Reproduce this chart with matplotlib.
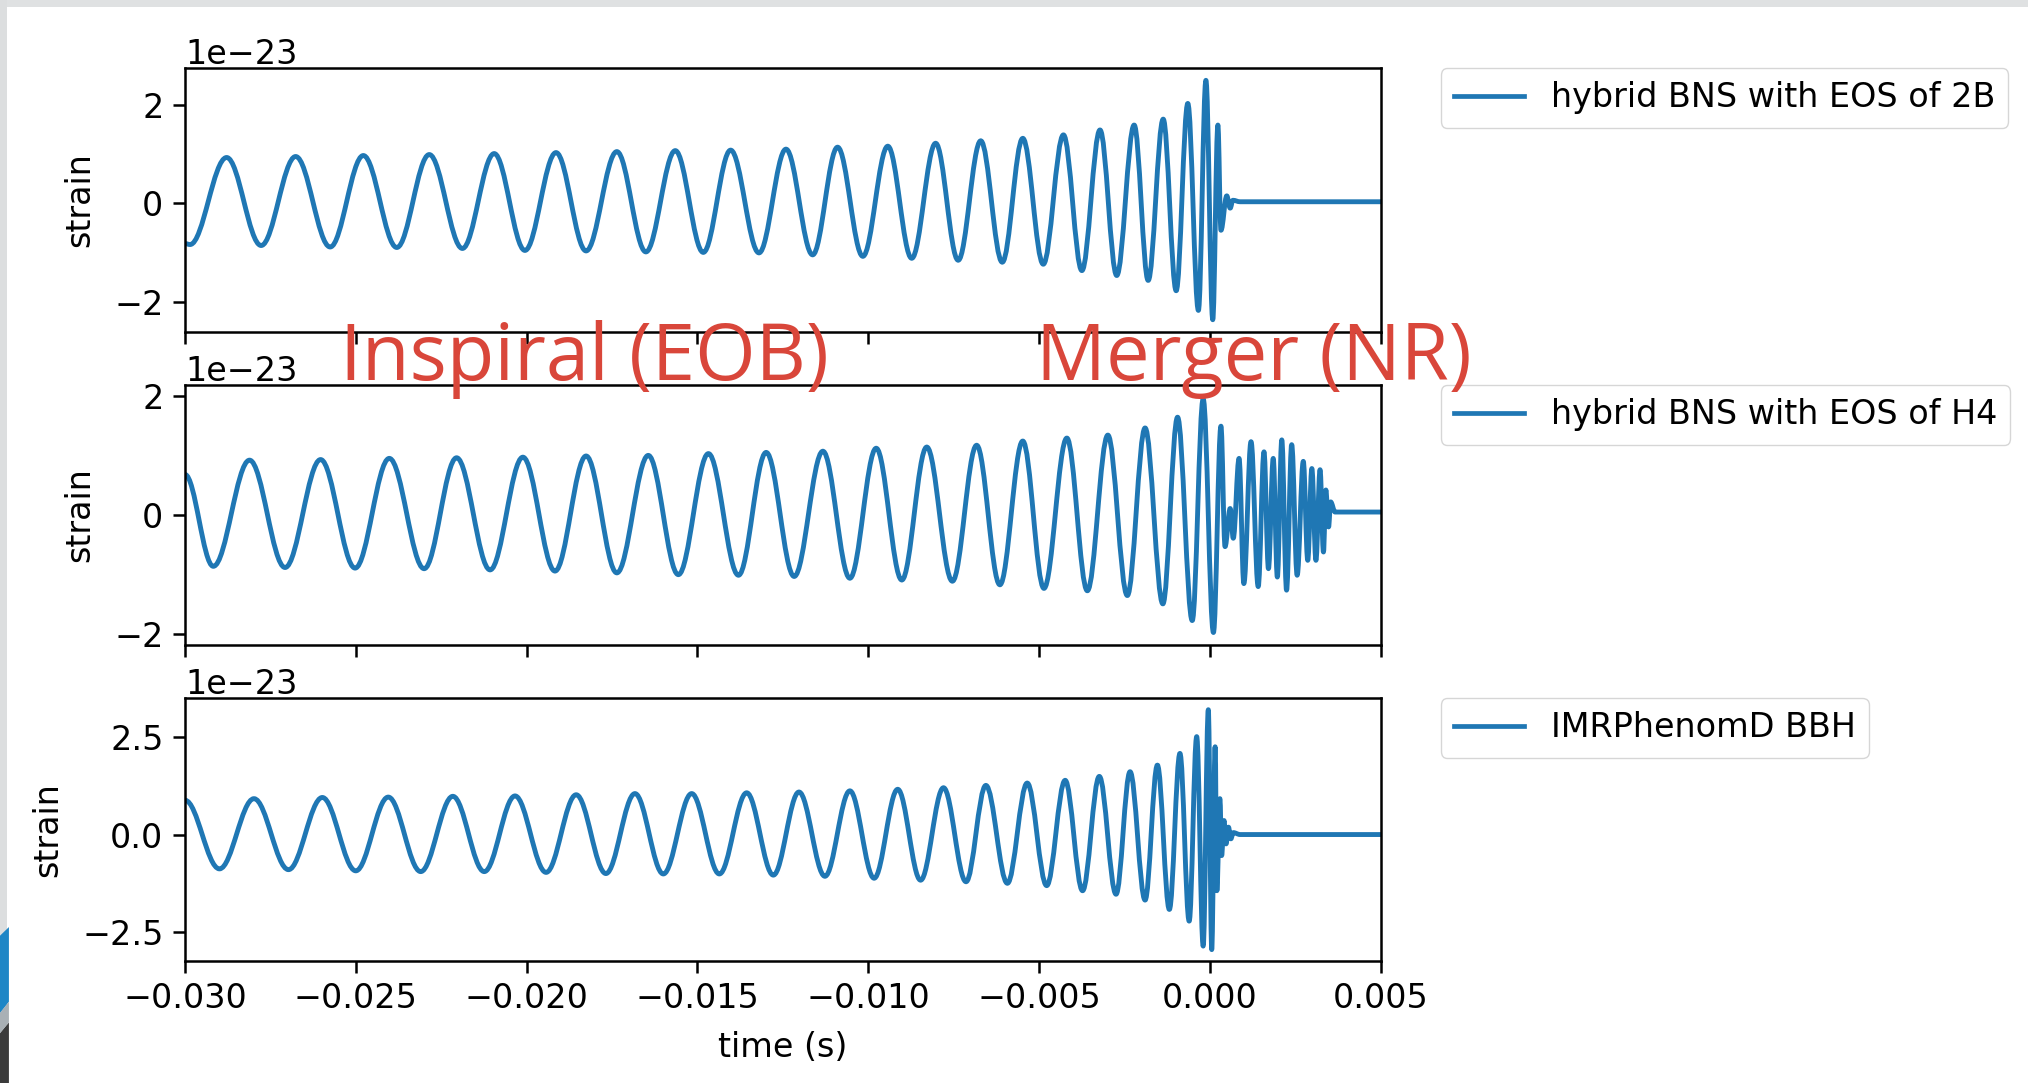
# hybrid BNS / BBH waveform comparison (strain vs time)
import numpy as np
import matplotlib
matplotlib.use("Agg")
import matplotlib.pyplot as plt
from matplotlib.path import Path
from matplotlib.patches import PathPatch, Rectangle, Polygon
from matplotlib.lines import Line2D

# extrema of each waveform: time in ms, strain in units of 1e-23
t_2b = [-30.00, -29.85, -28.78, -27.77, -26.76, -25.75, -24.78, -23.80, -22.85, -21.88,
        -20.95, -20.05, -19.14, -18.26, -17.36, -16.51, -15.65, -14.83, -14.03, -13.20,
        -12.41, -11.63, -10.90, -10.16, -9.43, -8.73, -8.03, -7.37, -6.71, -6.08,
        -5.48, -4.88, -4.29, -3.75, -3.22, -2.73, -2.22, -1.81, -1.37, -0.99,
        -0.65, -0.34, -0.12, 0.08, 0.23, 0.32, 0.49, 0.59, 0.67, 0.88, 5.00]
h_2b = [-0.82, -0.84, 0.93, -0.86, 0.95, -0.89, 0.97, -0.90, 0.99, -0.92,
        1.01, -0.96, 1.03, -0.97, 1.05, -0.99, 1.07, -1.00, 1.08, -1.01,
        1.10, -1.05, 1.14, -1.08, 1.16, -1.12, 1.22, -1.16, 1.27, -1.20,
        1.32, -1.24, 1.39, -1.37, 1.49, -1.47, 1.59, -1.57, 1.71, -1.78,
        2.03, -2.18, 2.50, -2.37, 1.59, -0.55, 0.15, -0.10, 0.06, 0.03, 0.03]

t_h4 = [-30.00, -29.17, -28.11, -27.07, -26.03, -25.02, -24.02, -23.00, -22.05, -21.07,
        -20.11, -19.17, -18.26, -17.36, -16.44, -15.56, -14.68, -13.80, -12.99, -12.17,
        -11.33, -10.54, -9.77, -9.02, -8.29, -7.54, -6.83, -6.15, -5.48, -4.86,
        -4.19, -3.59, -2.99, -2.42, -1.90, -1.38, -0.95, -0.52, -0.20, 0.10,
        0.32, 0.44, 0.59, 0.68, 0.85, 0.99, 1.20, 1.41, 1.58, 1.71,
        1.85, 1.97, 2.10, 2.24, 2.39, 2.55, 2.73, 2.86, 2.98, 3.10,
        3.22, 3.32, 3.39, 3.47, 3.53, 3.66, 5.00]
h_h4 = [0.68, -0.86, 0.92, -0.88, 0.93, -0.89, 0.95, -0.90, 0.96, -0.92,
        0.97, -0.94, 0.99, -0.97, 1.00, -1.00, 1.03, -1.01, 1.05, -1.03,
        1.07, -1.06, 1.12, -1.09, 1.14, -1.11, 1.17, -1.17, 1.24, -1.23,
        1.29, -1.27, 1.34, -1.35, 1.46, -1.49, 1.64, -1.77, 1.95, -1.97,
        1.49, -0.53, 0.11, -0.39, 0.95, -1.15, 1.23, -1.20, 1.06, -0.90,
        0.95, -1.04, 1.26, -1.26, 1.18, -1.01, 0.90, -0.76, 0.78, -0.76,
        0.76, -0.62, 0.42, -0.20, 0.22, 0.05, 0.05]

t_bbh = [-30.00, -28.99, -27.98, -26.97, -25.98, -25.00, -24.05, -23.10, -22.16, -21.24,
         -20.34, -19.43, -18.55, -17.68, -16.83, -16.00, -15.17, -14.36, -13.56, -12.78,
         -12.03, -11.27, -10.54, -9.83, -9.14, -8.47, -7.80, -7.14, -6.56, -5.93,
         -5.35, -4.78, -4.24, -3.73, -3.24, -2.75, -2.34, -1.90, -1.54, -1.19,
         -0.88, -0.61, -0.39, -0.20, -0.05, 0.05, 0.15, 0.20, 0.29, 0.34,
         0.41, 0.47, 0.54, 0.61, 0.68, 0.88, 5.00]
h_bbh = [0.88, -0.88, 0.92, -0.90, 0.95, -0.93, 0.96, -0.95, 0.98, -0.95,
         0.99, -0.97, 1.02, -1.00, 1.05, -1.01, 1.05, -1.01, 1.07, -1.04,
         1.09, -1.07, 1.12, -1.12, 1.16, -1.17, 1.20, -1.21, 1.26, -1.25,
         1.32, -1.31, 1.39, -1.44, 1.49, -1.53, 1.61, -1.68, 1.78, -1.92,
         2.08, -2.22, 2.51, -2.86, 3.20, -2.95, 2.25, -1.44, 0.92, -0.54,
         0.36, -0.24, 0.19, -0.11, 0.05, 0.00, 0.00]

labels = ["hybrid BNS with EOS of 2B", "hybrid BNS with EOS of H4", "IMRPhenomD BBH"]
ylims = [(-2.62, 2.75), (-2.18, 2.18), (-3.24, 3.50)]
yticks = [[-2, 0, 2], [-2, 0, 2], [-2.5, 0, 2.5]]
xticks = [-0.030, -0.025, -0.020, -0.015, -0.010, -0.005, 0.000, 0.005]

blue = "#1f77b4"
red = "#d9463a"
fs = 24


def wave_path(t_ms, h):
    # smooth curve through the extrema (horizontal tangent at each one)
    t = np.asarray(t_ms) * 1e-3
    y = np.asarray(h) * 1e-23
    k = 0.3634
    verts = [(t[0], y[0])]
    codes = [Path.MOVETO]
    for i in range(len(t) - 1):
        dt = t[i + 1] - t[i]
        verts += [(t[i] + k * dt, y[i]), (t[i + 1] - k * dt, y[i + 1]), (t[i + 1], y[i + 1])]
        codes += [Path.CURVE4] * 3
    return Path(verts, codes)


plt.rcParams.update({"font.size": fs, "axes.linewidth": 1.8,
                     "xtick.major.size": 8.5, "ytick.major.size": 8.5,
                     "xtick.major.width": 1.8, "ytick.major.width": 1.8,
                     "xtick.major.pad": 7, "ytick.major.pad": 7})

fig = plt.figure(figsize=(20.28, 10.83), dpi=100)
fig.patch.set_facecolor("white")

positions = [[0.0912, 0.6934, 0.5897, 0.2438],
             [0.0912, 0.4044, 0.5897, 0.2401],
             [0.0912, 0.1127, 0.5897, 0.2428]]
series = [(t_2b, h_2b), (t_h4, h_h4), (t_bbh, h_bbh)]

axes = []
for i, (t, h) in enumerate(series):
    ax = fig.add_axes(positions[i], sharex=axes[0] if axes else None)
    ax.add_patch(PathPatch(wave_path(t, h), fill=False, edgecolor=blue, lw=3.5,
                           joinstyle="round", capstyle="round"))
    ax.set_xlim(-0.030, 0.005)
    ax.set_ylim(ylims[i][0] * 1e-23, ylims[i][1] * 1e-23)
    ax.set_yticks([v * 1e-23 for v in yticks[i]])
    ax.set_xticks(xticks)
    ax.set_ylabel("strain", labelpad=13)
    ax.yaxis.get_offset_text().set_fontsize(fs)
    ax.legend([Line2D([0], [0], color=blue, lw=3.4)], [labels[i]], loc="upper left",
              bbox_to_anchor=(1.05, 1.0), borderaxespad=0, fontsize=fs, handlelength=2.1)
    if i < 2:
        ax.tick_params(labelbottom=False)
    axes.append(ax)

axes[2].set_xlabel("time (s)", labelpad=11)

# slide overlay labels
fig.text(0.1677, 0.649, "Inspiral (EOB)", fontsize=56, color=red, family="Open Sans",
         va="baseline", zorder=10)
fig.text(0.511, 0.649, "Merger (NR)", fontsize=56, color=red, family="Open Sans",
         va="baseline", zorder=10)

# bits of the slide around the screenshot
fig.patches.append(Rectangle((0, 1 - 7 / 1083), 1, 7 / 1083, transform=fig.transFigure,
                             facecolor="#dfe1e2", edgecolor="none"))
fig.patches.append(Rectangle((0, 0), 7 / 2028, 1, transform=fig.transFigure,
                             facecolor="#dcdedf", edgecolor="none"))
fig.patches.append(Polygon([(0, 0.0646), (0.0044, 0.075), (0.0044, 0.144), (0, 0.136)],
                           closed=True, transform=fig.transFigure, facecolor="#1e86c6",
                           edgecolor="none"))
fig.patches.append(Polygon([(0, 0), (0.0044, 0), (0.0044, 0.056), (0, 0.046)],
                           closed=True, transform=fig.transFigure, facecolor="#3b3b3b",
                           edgecolor="none"))
fig.patches.append(Polygon([(0, 0.046), (0.0044, 0.056), (0.0044, 0.075), (0, 0.0646)],
                           closed=True, transform=fig.transFigure, facecolor="#a9b0b5",
                           edgecolor="none"))

fig.savefig("out.png", dpi=100)
